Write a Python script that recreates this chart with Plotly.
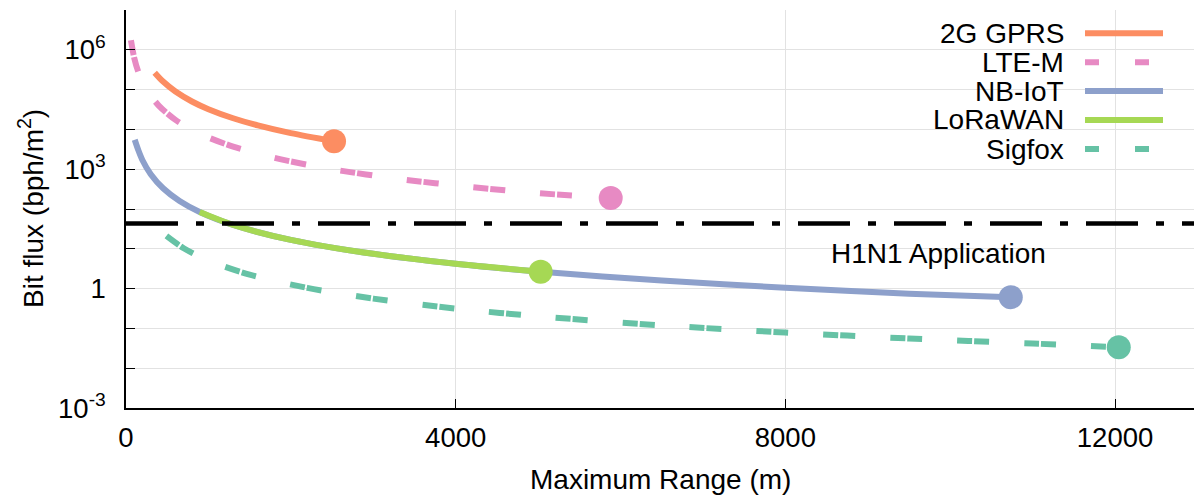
import plotly.graph_objects as go

# ---------------- data ----------------
gprs_x = [348, 450, 600, 800, 1000, 1300, 1600, 2000, 2524]
gprs_y = [266000, 159000, 89400, 50300, 32200, 19050, 12580, 8050, 5054]

ltem_x = [60, 100, 150, 250, 400, 600, 900, 1300, 1800, 2500, 3300, 4200, 5000, 5881]
ltem_y = [1.73e6, 6.24e5, 2.77e5, 9.98e4, 3.9e4, 1.733e4, 7700, 3690, 1925, 998, 573, 354, 250, 190]

nbiot_x = [106, 150, 200, 300, 450, 650, 900, 1300, 2000, 3000, 4000, 5000, 6500, 8000, 9500, 10735]
nbiot_y = [5500, 2987, 1680, 747, 332, 159, 83, 39.8, 16.8, 7.47, 4.2, 2.69, 1.59, 1.05, 0.745, 0.61]

lora_x = [894, 1300, 2000, 3000, 4000, 5031]
lora_y = [84, 39.8, 16.8, 7.47, 4.2, 2.65]

sigfox_x = [490, 700, 1000, 1500, 2200, 3000, 4000, 5000, 6500, 8000, 9500, 11000, 12045]
sigfox_y = [21.0, 10.3, 5.04, 2.24, 1.04, 0.56, 0.315, 0.2016, 0.119, 0.0788, 0.0558, 0.0417, 0.0335]

h1n1_level = 43.2
h1n1_label = "H1N1 Application"

series_names = ["2G GPRS", "LTE-M", "NB-IoT", "LoRaWAN", "Sigfox"]
series_colors = ["#fc8d62", "#e78ac3", "#8da0cb", "#a6d854", "#66c2a5"]
series_dashed = [False, True, False, False, True]

x_ticks = [0, 4000, 8000, 12000]
x_tick_text = ["0", "4000", "8000", "12000"]
y_tick_vals = [1e-3, 1, 1e3, 1e6]
y_tick_text = ["10<sup>-3</sup>", "1", "10<sup>3</sup>", "10<sup>6</sup>"]
y_minor_vals = [1e-3, 1e-2, 1e-1, 1, 10, 100, 1e3, 1e4, 1e5, 1e6, 1e7]

x_range = [0, 12958]
x_title = "Maximum Range (m)"
y_title = "Bit flux (bph/m<sup>2</sup>)"

# ---------------- figure ----------------
FONT = "Liberation Sans, Arial, Helvetica, sans-serif"
PLOT_DASH = "15px,2px,15px,35px"
LEG_DASH = "14px,36px"
LW = 6
GRID = "#e2e2e2"

fig = go.Figure()
all_x = [gprs_x, ltem_x, nbiot_x, lora_x, sigfox_x]
all_y = [gprs_y, ltem_y, nbiot_y, lora_y, sigfox_y]
for name, xs, ys, col, dashed in zip(series_names, all_x, all_y, series_colors, series_dashed):
    fig.add_trace(go.Scatter(
        x=xs, y=ys, mode="lines", name=name, showlegend=False,
        line=dict(color=col, width=LW, shape="spline", smoothing=0.8,
                  dash=PLOT_DASH if dashed else "solid"),
        hoverinfo="skip"))
    fig.add_trace(go.Scatter(
        x=[xs[-1]], y=[ys[-1]], mode="markers", showlegend=False,
        marker=dict(color=col, size=24, line=dict(width=0)), hoverinfo="skip"))

fig.add_trace(go.Scatter(
    x=x_range, y=[h1n1_level, h1n1_level], mode="lines", showlegend=False,
    line=dict(color="black", width=4.5, dash="52px,18px,8px,18px"), hoverinfo="skip"))

# geometry helpers (pixel -> paper) for legend/annotation placement
W, H = 1194, 499
ML, MR, MT, MB = 126, 0, 10, 91
PW, PH = W - ML - MR, H - MT - MB


def px(xp):
    return (xp - ML) / PW


def py(yp):
    return (H - MB - yp) / PH


shapes = [dict(type="rect", xref="paper", yref="paper", x0=px(946), x1=px(1180),
               y0=py(165), y1=py(18), fillcolor="white", line=dict(width=0), layer="between")]
annotations = []
rows = [33.3, 62.3, 91, 120, 149]
for name, col, dashed, r in zip(series_names, series_colors, series_dashed, rows):
    shapes.append(dict(type="line", xref="paper", yref="paper", x0=px(1085), x1=px(1163),
                       y0=py(r), y1=py(r), layer="above",
                       line=dict(color=col, width=LW, dash=LEG_DASH if dashed else "solid")))
    annotations.append(dict(text=name, xref="paper", yref="paper", x=px(1066), y=py(r),
                            xanchor="right", yanchor="middle", showarrow=False,
                            font=dict(family=FONT, size=28, color="black")))

annotations.append(dict(text=h1n1_label, xref="paper", yref="paper", x=px(1048), y=py(253),
                        xanchor="right", yanchor="middle", showarrow=False,
                        font=dict(family=FONT, size=28, color="black")))
annotations.append(dict(text=x_title, xref="paper", yref="paper", x=px(660), y=py(480),
                        xanchor="center", yanchor="middle", showarrow=False,
                        font=dict(family=FONT, size=28, color="black")))
annotations.append(dict(text=y_title, xref="paper", yref="paper", x=px(31), y=py(209),
                        xanchor="center", yanchor="middle", showarrow=False, textangle=-90,
                        font=dict(family=FONT, size=28, color="black")))

fig.update_layout(
    width=W, height=H,
    margin=dict(l=ML, r=MR, t=MT, b=MB, pad=0, autoexpand=False),
    paper_bgcolor="white", plot_bgcolor="white",
    font=dict(family=FONT, size=27.5, color="black"),
    shapes=shapes, annotations=annotations, showlegend=False,
    xaxis=dict(range=x_range, tickmode="array", tickvals=x_ticks, ticktext=x_tick_text,
               ticks="inside", ticklen=9, tickwidth=1,
               tickcolor="black", showline=True, linecolor="black", linewidth=1.5,
               showgrid=True, gridcolor=GRID, gridwidth=1, zeroline=False,
               tickfont=dict(size=27.5), ticklabelstandoff=4, automargin=False),
    yaxis=dict(type="log", range=[-3, 7], tickmode="array", tickvals=y_tick_vals,
               ticktext=y_tick_text,
               ticks="inside", ticklen=9, tickwidth=1, tickcolor="black",
               showline=True, linecolor="black", linewidth=1.5,
               showgrid=True, gridcolor=GRID, gridwidth=1, zeroline=False,
               minor=dict(tickmode="array", tickvals=y_minor_vals, ticks="inside",
                          ticklen=9, tickwidth=1, tickcolor="black",
                          showgrid=True, gridcolor=GRID, gridwidth=1),
               tickfont=dict(size=27.5), ticklabelstandoff=13, automargin=False),
)

fig.write_html("out.html", config={"displayModeBar": False},
               post_script="document.body.style.margin='0';document.body.style.overflow='hidden';")
